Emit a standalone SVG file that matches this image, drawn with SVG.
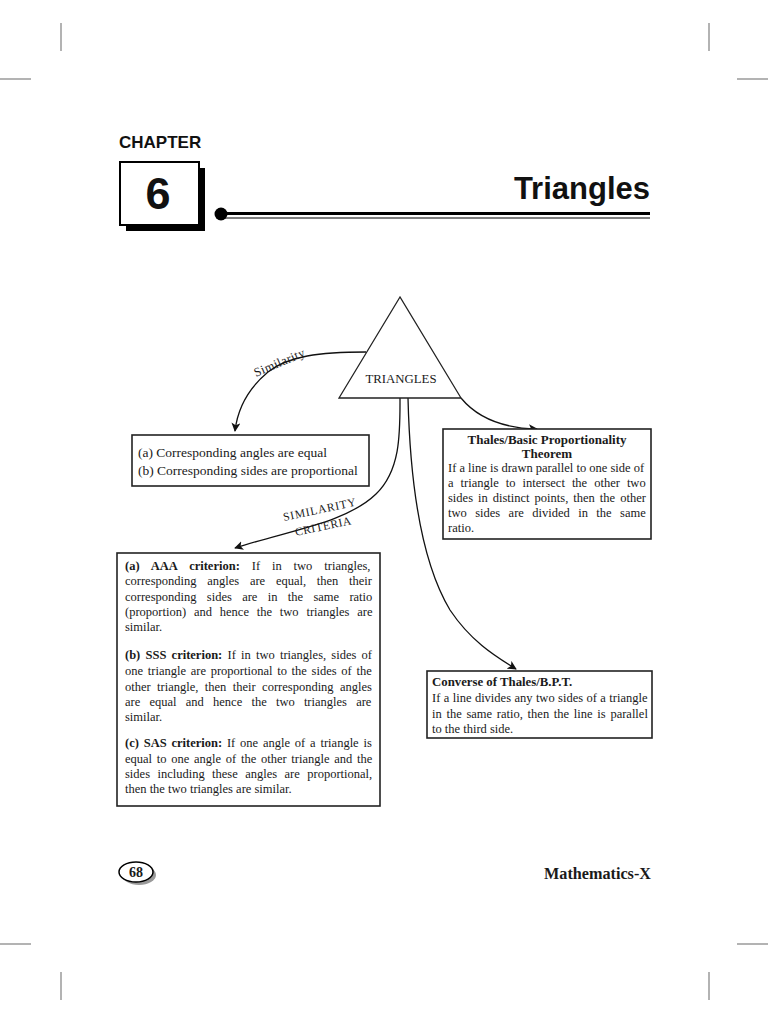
<svg xmlns="http://www.w3.org/2000/svg" width="768" height="1024" viewBox="0 0 768 1024">
<style>
.crop{stroke:#9a9a9a;stroke-width:1.5;fill:none}
.box{fill:#fff;stroke:#222;stroke-width:1.6}
.conn{fill:none;stroke:#111;stroke-width:1.3}
.t{font-family:"Liberation Serif","Times New Roman",serif;font-size:12.5px;fill:#1a1a1a}
.b{font-weight:bold}
.sans{font-family:"Liberation Sans",Arial,sans-serif;font-weight:bold;fill:#111}
</style>
<defs>
<marker id="ah" viewBox="0 0 10 10" refX="9" refY="5" markerWidth="9" markerHeight="9" markerUnits="userSpaceOnUse" orient="auto">
<path d="M0,0 L10,5 L0,10 L2.5,5 z" fill="#111"/>
</marker>
</defs>
<rect width="768" height="1024" fill="#fff"/>
<g id="cropmarks">
<line class="crop" x1="61" y1="23" x2="61" y2="51"/>
<line class="crop" x1="0" y1="79" x2="31" y2="79"/>
<line class="crop" x1="709" y1="23" x2="709" y2="51"/>
<line class="crop" x1="737" y1="79" x2="768" y2="79"/>
<line class="crop" x1="0" y1="944" x2="31" y2="944"/>
<line class="crop" x1="61" y1="972" x2="61" y2="1000"/>
<line class="crop" x1="737" y1="944" x2="768" y2="944"/>
<line class="crop" x1="709" y1="972" x2="709" y2="1000"/>
</g>
<g id="header">
<text class="sans" x="119" y="148" font-size="17">CHAPTER</text>
<rect x="126" y="168" width="79" height="63" fill="#000"/>
<rect x="120" y="162" width="79" height="63" fill="#fff" stroke="#000" stroke-width="2"/>
<text class="sans" x="158" y="209" font-size="45" text-anchor="middle">6</text>
<text class="sans" x="650" y="199" font-size="31" text-anchor="end">Triangles</text>
<line x1="222" y1="213.5" x2="650" y2="213.5" stroke="#000" stroke-width="3"/>
<line x1="222" y1="218" x2="650" y2="218" stroke="#000" stroke-width="1"/>
<circle cx="221" cy="214" r="6.5" fill="#000"/>
</g>
<g id="connectors">
<path class="conn" d="M366,352 C 320,352 288,356 268,372 C 250,387 238,405 235,431" marker-end="url(#ah)"/>
<path class="conn" d="M461,398 C 475,415 497,428 537,429" marker-end="url(#ah)"/>
<path class="conn" d="M400,398 C 400,432 401,470 376,494 C 346,523 290,530 235,548" marker-end="url(#ah)"/>
<path class="conn" d="M408,398 C 410,480 420,560 450,610 C 470,640 493,655 516,669" marker-end="url(#ah)"/>
<text class="t" transform="translate(256,377) rotate(-23)" textLength="54" lengthAdjust="spacing">Similarity</text>
<text class="t" style="font-size:11.5px" transform="translate(284,521) rotate(-12)" textLength="74" lengthAdjust="spacing">SIMILARITY</text>
<text class="t" style="font-size:11.5px" transform="translate(296,536) rotate(-12)" textLength="57" lengthAdjust="spacing">CRITERIA</text>
</g>
<g id="node-triangles">
<polygon points="400,297 339,398 461,398" fill="#fff" stroke="#222" stroke-width="1.3"/>
<text class="t" x="401" y="383" text-anchor="middle" style="font-size:12.8px">TRIANGLES</text>
</g>
<g id="node-similarity">
<rect class="box" x="132" y="435" width="237" height="51"/>
<text class="t" x="138" y="457" style="font-size:13.5px">(a) Corresponding angles are equal</text>
<text class="t" x="138" y="475" style="font-size:13.5px">(b) Corresponding sides are proportional</text>
</g>
<g id="node-thales">
<rect class="box" x="443" y="429" width="208" height="110"/>
<text class="t b" x="547" y="444" text-anchor="middle" style="font-size:13px">Thales/Basic Proportionality</text>
<text class="t b" x="547" y="458" text-anchor="middle" style="font-size:13px">Theorem</text>
<text class="t" x="448" y="472">If a line is drawn parallel to one side of</text>
<text class="t" x="448" y="487" word-spacing="3.9">a triangle to intersect the other two</text>
<text class="t" x="448" y="502" word-spacing="1.9">sides in distinct points, then the other</text>
<text class="t" x="448" y="517" word-spacing="5.3">two sides are divided in the same</text>
<text class="t" x="448" y="532">ratio.</text>
</g>
<g id="node-criteria">
<rect class="box" x="117" y="553" width="263" height="253"/>
<text class="t" x="125" y="570" word-spacing="8.8"><tspan class="b">(a) AAA criterion:</tspan> If in two triangles,</text>
<text class="t" x="125" y="585" word-spacing="7.6">corresponding angles are equal, then their</text>
<text class="t" x="125" y="601" word-spacing="7.2">corresponding sides are in the same ratio</text>
<text class="t" x="125" y="616" word-spacing="4.7">(proportion) and hence the two triangles are</text>
<text class="t" x="125" y="631">similar.</text>
<text class="t" x="125" y="659" word-spacing="2.1"><tspan class="b">(b) SSS criterion:</tspan> If in two triangles, sides of</text>
<text class="t" x="125" y="675" word-spacing="1.6">one triangle are proportional to the sides of the</text>
<text class="t" x="125" y="691" word-spacing="3.3">other triangle, then their corresponding angles</text>
<text class="t" x="125" y="706" word-spacing="6.1">are equal and hence the two triangles are</text>
<text class="t" x="125" y="721">similar.</text>
<text class="t" x="125" y="747" word-spacing="1.7"><tspan class="b">(c) SAS criterion:</tspan> If one angle of a triangle is</text>
<text class="t" x="125" y="763" word-spacing="1.6">equal to one angle of the other triangle and the</text>
<text class="t" x="125" y="778" word-spacing="4.3">sides including these angles are proportional,</text>
<text class="t" x="125" y="793">then the two triangles are similar.</text>
</g>
<g id="node-converse">
<rect class="box" x="427" y="671" width="225" height="67"/>
<text class="t b" x="432" y="686" style="font-size:12.8px">Converse of Thales/B.P.T.</text>
<text class="t" x="432" y="702" word-spacing="0.3">If a line divides any two sides of a triangle</text>
<text class="t" x="432" y="718" word-spacing="1.6">in the same ratio, then the line is parallel</text>
<text class="t" x="432" y="733">to the third side.</text>
</g>
<g id="footer">
<ellipse cx="139" cy="875" rx="17" ry="10" fill="#9a9a9a"/>
<ellipse cx="136" cy="872" rx="17" ry="10" fill="#fff" stroke="#000" stroke-width="1.5"/>
<text class="t b" x="136" y="877" text-anchor="middle" style="font-size:14px">68</text>
<text class="t b" x="651" y="879" text-anchor="end" style="font-size:16.2px">Mathematics-X</text>
</g>
</svg>
